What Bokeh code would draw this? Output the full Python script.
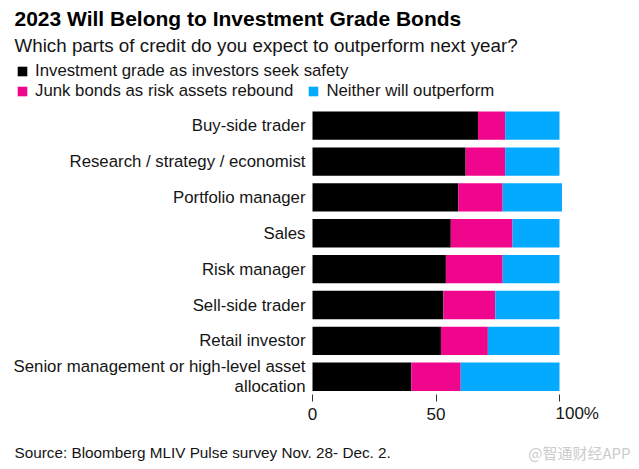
from bokeh.plotting import figure
from bokeh.layouts import column
from bokeh.models import (ColumnDataSource, Range1d, Legend, LegendItem, FixedTicker)
from bokeh.core.properties import value
from bokeh.embed import file_html
from bokeh.resources import INLINE

# ---- data ----
categories = [
    "Buy-side trader",
    "Research / strategy / economist",
    "Portfolio manager",
    "Sales",
    "Risk manager",
    "Sell-side trader",
    "Retail investor",
    "Senior management or high-level asset\nallocation",
]
investment_grade = [67, 62, 59, 56, 54, 53, 52, 40]
junk_bonds = [11, 16, 18, 25, 23, 21, 19, 20]
neither = [22, 22, 24, 19, 23, 26, 29, 40]
series_names = ["Investment grade as investors seek safety",
                "Junk bonds as risk assets rebound",
                "Neither will outperform"]
x_ticks = [0, 50, 100]
x_tick_labels = ["0", "50", "100%"]
title_text = "2023 Will Belong to Investment Grade Bonds"
subtitle_text = "Which parts of credit do you expect to outperform next year?"
source_text = "Source: Bloomberg MLIV Pulse survey Nov. 28- Dec. 2."
watermark_text = "@智通财经APP"

# ---- styling / layout (pixels) ----
FONT = "Liberation Sans"
COLORS = ["#000000", "#f0068c", "#04aaff"]
TEXT_COLOR = "#151515"
W = 639
H_MAIN = 404
H_FOOT = 469 - H_MAIN
FRAME_BOTTOM = 394          # page y of the bottom of the bar area
X0_PX = 312                 # page x of value 0
PX_PER_X = 2.47             # pixels per percentage point
ROW0_PX = 125.2             # page y of first bar centre
ROW_PX = 35.86              # row pitch


def xi(page_x):
    return (page_x - X0_PX) / PX_PER_X


def yi(page_y):
    return (page_y - ROW0_PX) / ROW_PX


x_range = Range1d(xi(0), xi(W))

source = ColumnDataSource(dict(pos=list(range(len(categories))), cat=categories,
                               ig=investment_grade, junk=junk_bonds, neither=neither))

p = figure(width=W, height=H_MAIN, output_backend="svg", toolbar_location=None,
           x_range=x_range, y_range=Range1d(yi(FRAME_BOTTOM), yi(0)),
           y_axis_location=None,
           min_border_left=0, min_border_right=0, min_border_top=0,
           min_border_bottom=H_MAIN - FRAME_BOTTOM,
           outline_line_color=None, background_fill_color="white",
           border_fill_color="white")

renderers = p.hbar_stack(["ig", "junk", "neither"], y="pos", height=0.79,
                         color=COLORS, line_color=None, source=source)

p.xgrid.visible = False
p.ygrid.visible = False

# category labels
p.text(x=0, y="pos", text="cat", source=source, x_offset=-7,
       text_align="right", text_baseline="middle", text_font=value(FONT),
       text_font_size="16.8px", text_color=TEXT_COLOR, text_line_height=1.05)

# x axis: tick marks
xax = p.xaxis[0]
xax.ticker = FixedTicker(ticks=x_ticks)
xax.axis_line_color = None
xax.major_tick_in = 0
xax.major_tick_out = 7
xax.major_tick_line_color = "#333333"
xax.minor_tick_line_color = None
xax.major_label_standoff = 0
xax.major_label_text_font_size = "1px"
xax.major_label_text_color = None

# header
p.text(x=[xi(14)], y=[yi(18)], text=[title_text], text_font=value(FONT),
       text_font_size="21px", text_font_style="bold", text_color="#000000",
       text_align="left", text_baseline="middle")
p.text(x=[xi(14)], y=[yi(45)], text=[subtitle_text], text_font=value(FONT),
       text_font_size="18.8px", text_color=TEXT_COLOR,
       text_align="left", text_baseline="middle")


def make_legend(items, row_center_page_y):
    return Legend(items=items, orientation="horizontal",
                  location=(16, FRAME_BOTTOM - (row_center_page_y + 10)),
                  padding=0, margin=0, spacing=14, label_standoff=7,
                  glyph_width=12, glyph_height=12, label_height=20,
                  border_line_color=None, background_fill_alpha=0,
                  label_text_font=FONT, label_text_font_size="16.8px",
                  label_text_color=TEXT_COLOR)


leg1 = make_legend([LegendItem(label=series_names[0], renderers=[renderers[0]])], 71)
leg2 = make_legend([LegendItem(label=series_names[1], renderers=[renderers[1]]),
                    LegendItem(label=series_names[2], renderers=[renderers[2]])], 91)
p.add_layout(leg1, "center")
p.add_layout(leg2, "center")

# footer: tick labels, source, watermark (shares the x scale)
f = figure(width=W, height=H_FOOT, output_backend="svg", toolbar_location=None,
           x_range=x_range, y_range=Range1d(469, H_MAIN),
           x_axis_location=None, y_axis_location=None,
           min_border_left=0, min_border_right=0, min_border_top=0, min_border_bottom=0,
           outline_line_color=None, background_fill_color="white",
           border_fill_color="white")
f.xgrid.visible = False
f.ygrid.visible = False

f.text(x=x_ticks[:2], y=[413, 413], text=x_tick_labels[:2], text_font=value(FONT),
       text_font_size="17px", text_color=TEXT_COLOR,
       text_align="center", text_baseline="middle")
f.text(x=x_ticks[2:], y=[413], text=x_tick_labels[2:], text_font=value(FONT),
       text_font_size="17px", text_color=TEXT_COLOR, x_offset=-4,
       text_align="left", text_baseline="middle")
f.text(x=[xi(14)], y=[452], text=[source_text], text_font=value(FONT),
       text_font_size="15.3px", text_color=TEXT_COLOR,
       text_align="left", text_baseline="middle")
f.text(x=[xi(630)], y=[452], text=[watermark_text], text_font=value("Noto Sans CJK SC"),
       text_font_size="15px", text_color="#cccccc",
       text_align="right", text_baseline="middle")

open("out.html", "w").write(file_html(column(p, f, spacing=0), INLINE))
